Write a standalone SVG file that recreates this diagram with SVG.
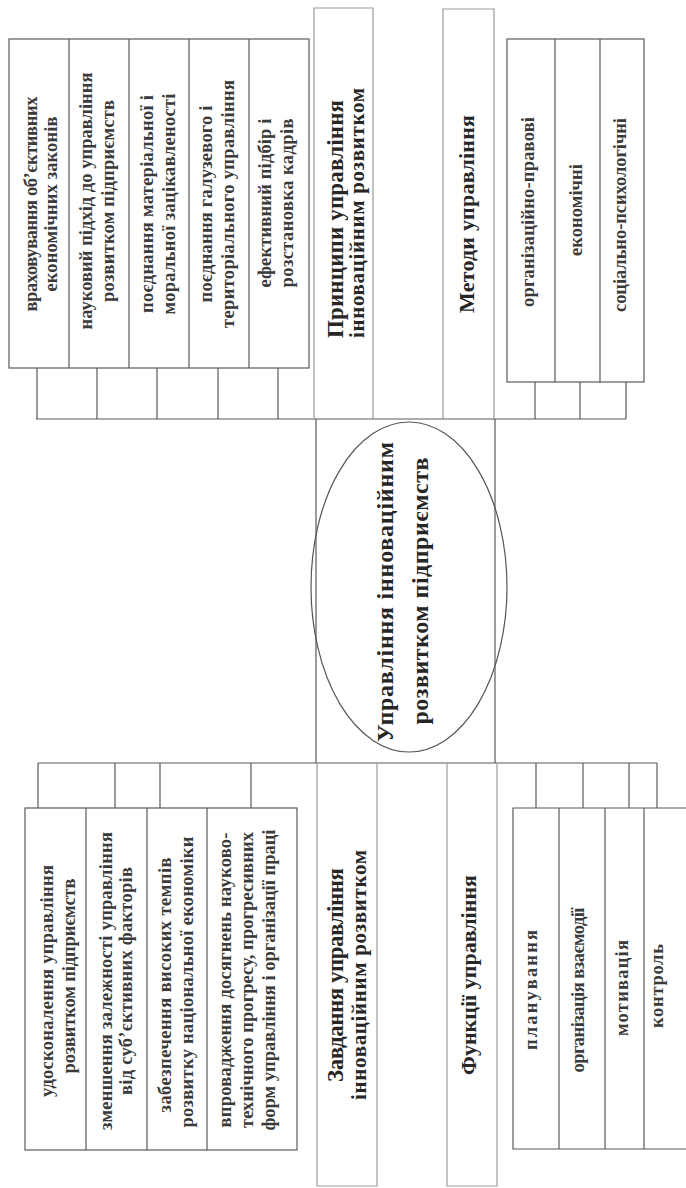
<svg xmlns="http://www.w3.org/2000/svg" width="686" height="1188" viewBox="0 0 686 1188">
<style>
.bg{fill:#ffffff}
.box{fill:none;stroke:#5a5a5a;stroke-width:1.2}
.hbox{fill:none;stroke:#9a9a9a;stroke-width:1.2}
.ln{fill:none;stroke:#5a5a5a;stroke-width:1.2}
.t{font-family:"Liberation Serif","Times New Roman",serif;font-weight:bold;font-size:18.5px;fill:#3a3a3a;text-anchor:middle}
.h{font-family:"Liberation Serif","Times New Roman",serif;font-weight:bold;fill:#262626;text-anchor:middle}
.ell{fill:none;stroke:#555;stroke-width:1.2}
</style>
<rect class="bg" x="0" y="0" width="686" height="1188"/>

<g id="connectors">
  <path class="ln" d="M37,368V419M97,368V419M157,368V419M218,368V419M278,368V419M535,382V419M580,382V419M626,382V419"/>
  <path class="ln" d="M36,419H626"/>
  <path class="ln" d="M316,419V763M495,419V763"/>
  <path class="ln" d="M38,763H657"/>
  <path class="ln" d="M38,763V808M115,763V808M160,763V808M251,763V808M536,763V808M583,763V808M629,763V808M657,763V808"/>
</g>

<g id="principles-items">
  <rect class="box" x="9" y="39" width="300" height="329"/>
  <path class="box" d="M69,39V368M129,39V368M189,39V368M249,39V368"/>
  <text class="t" transform="translate(37,204) rotate(-90)" textLength="215" lengthAdjust="spacing">враховування об’єктивних</text>
  <text class="t" transform="translate(57,204) rotate(-90)" textLength="175" lengthAdjust="spacing">економічних законів</text>
  <text class="t" transform="translate(92,201) rotate(-90)" textLength="257" lengthAdjust="spacing">науковий підхід до управління</text>
  <text class="t" transform="translate(114,201) rotate(-90)" textLength="202" lengthAdjust="spacing">розвитком підприємств</text>
  <text class="t" transform="translate(153,204) rotate(-90)" textLength="218" lengthAdjust="spacing">поєднання матеріальної і</text>
  <text class="t" transform="translate(175,204) rotate(-90)" textLength="221" lengthAdjust="spacing">моральної зацікавленості</text>
  <text class="t" transform="translate(212,204) rotate(-90)" textLength="197" lengthAdjust="spacing">поєднання галузевого і</text>
  <text class="t" transform="translate(234,204) rotate(-90)" textLength="248" lengthAdjust="spacing">територіального управління</text>
  <text class="t" transform="translate(271,203) rotate(-90)" textLength="169" lengthAdjust="spacing">ефективний підбір і</text>
  <text class="t" transform="translate(293,203) rotate(-90)" textLength="169" lengthAdjust="spacing">розстановка кадрів</text>
</g>

<g id="principles">
  <path class="hbox" d="M314,419V8H373V419"/>
  <text class="h" style="font-size:23px;text-anchor:start" transform="translate(343,338) rotate(-90)" textLength="238" lengthAdjust="spacing">Принципи управління</text>
  <text class="h" style="font-size:21px;text-anchor:start" transform="translate(364,338) rotate(-90)" textLength="250" lengthAdjust="spacing">інноваційним розвитком</text>
</g>

<g id="methods">
  <path class="hbox" d="M443,419V9H494V419"/>
  <text class="h" style="font-size:22px" transform="translate(474,214) rotate(-90)" textLength="198" lengthAdjust="spacing">Методи управління</text>
</g>

<g id="methods-items">
  <rect class="box" x="507" y="39" width="137" height="343"/>
  <path class="box" d="M555,39V382M600,39V382"/>
  <text class="t" transform="translate(534,212) rotate(-90)" textLength="190" lengthAdjust="spacing">організаційно-правові</text>
  <text class="t" transform="translate(582,210) rotate(-90)" textLength="92" lengthAdjust="spacing">економічні</text>
  <text class="t" transform="translate(626,215) rotate(-90)" textLength="194" lengthAdjust="spacing">соціально-психологічні</text>
</g>

<g id="center">
  <ellipse class="ell" cx="409" cy="587" rx="98" ry="165"/>
  <text class="h" style="font-size:24px" transform="translate(393,592) rotate(-90)" textLength="300" lengthAdjust="spacing">Управління інноваційним</text>
  <text class="h" style="font-size:24px" transform="translate(428,591) rotate(-90)" textLength="267" lengthAdjust="spacing">розвитком підприємств</text>
</g>

<g id="tasks-items">
  <rect class="box" x="25" y="808" width="272" height="342"/>
  <path class="box" d="M86,808V1150M147,808V1150M207,808V1150"/>
  <text class="t" transform="translate(53,981) rotate(-90)" textLength="232" lengthAdjust="spacing">удосконалення управління</text>
  <text class="t" transform="translate(75,976) rotate(-90)" textLength="195" lengthAdjust="spacing">розвитком підприємств</text>
  <text class="t" transform="translate(112,981) rotate(-90)" textLength="298" lengthAdjust="spacing">зменшення залежності управління</text>
  <text class="t" transform="translate(132,981) rotate(-90)" textLength="228" lengthAdjust="spacing">від суб’єктивних факторів</text>
  <text class="t" transform="translate(171,985) rotate(-90)" textLength="255" lengthAdjust="spacing">забезпечення високих темпів</text>
  <text class="t" transform="translate(193,982) rotate(-90)" textLength="291" lengthAdjust="spacing">розвитку національної економіки</text>
  <text class="t" transform="translate(231,980) rotate(-90)" textLength="295" lengthAdjust="spacing">впровадження досягнень науково-</text>
  <text class="t" transform="translate(253,980) rotate(-90)" textLength="296" lengthAdjust="spacing">технічного прогресу, прогресивних</text>
  <text class="t" transform="translate(275,980) rotate(-90)" textLength="301" lengthAdjust="spacing">форм управління і організації праці</text>
</g>

<g id="tasks">
  <path class="hbox" d="M317,763V1186H377V763"/>
  <text class="h" style="font-size:23px" transform="translate(343,975) rotate(-90)" textLength="214" lengthAdjust="spacing">Завдання управління</text>
  <text class="h" style="font-size:21px" transform="translate(366,975) rotate(-90)" textLength="250" lengthAdjust="spacing">інноваційним розвитком</text>
</g>

<g id="functions">
  <path class="hbox" d="M447,763V1186H497V763"/>
  <text class="h" style="font-size:22px" transform="translate(476,975) rotate(-90)" textLength="200" lengthAdjust="spacing">Функції управління</text>
</g>

<g id="functions-items">
  <path class="box" d="M690,808H513V1149H690"/>
  <path class="box" d="M559,808V1149M605,808V1149M644,808V1149"/>
  <text class="t" transform="translate(537,990) rotate(-90)" textLength="120" lengthAdjust="spacing">планування</text>
  <text class="t" transform="translate(584,990) rotate(-90)" textLength="165" lengthAdjust="spacing">організація взаємодії</text>
  <text class="t" transform="translate(628,988) rotate(-90)" textLength="96" lengthAdjust="spacing">мотивація</text>
  <text class="t" transform="translate(663,986) rotate(-90)" textLength="84" lengthAdjust="spacing">контроль</text>
</g>
</svg>
